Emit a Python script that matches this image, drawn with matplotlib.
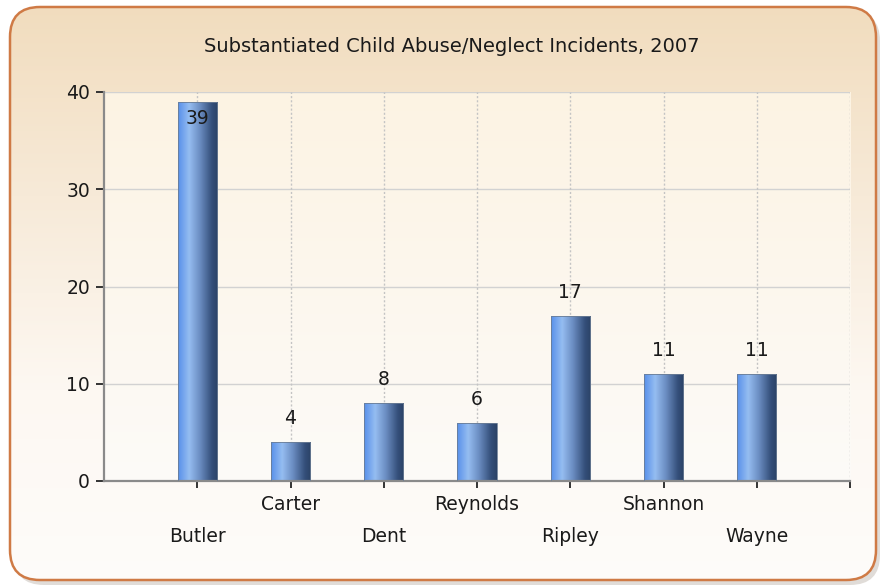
import numpy as np
import matplotlib.pyplot as plt
from matplotlib.patches import FancyBboxPatch
from matplotlib.colors import LinearSegmentedColormap

# data
counties = ["Butler", "Carter", "Dent", "Reynolds", "Ripley", "Shannon", "Wayne"]
incidents = [39, 4, 8, 6, 17, 11, 11]
title = "Substantiated Child Abuse/Neglect Incidents, 2007"
y_ticks = [0, 10, 20, 30, 40]

plt.rcParams['font.family'] = ['DejaVu Sans']

W, H = 880, 586
fig = plt.figure(figsize=(W / 100, H / 100), dpi=100)
fig.patch.set_facecolor('white')

# outer rounded panel with gradient fill
bg = fig.add_axes([0, 0, 1, 1], zorder=-10)
bg.set_xlim(0, W)
bg.set_ylim(H, 0)
bg.axis('off')

shadow = FancyBboxPatch((14, 11), 866, 574, boxstyle="round,pad=0,rounding_size=30",
                        facecolor='#c8c0b8', edgecolor='none', alpha=0.55)
bg.add_patch(shadow)
panel = FancyBboxPatch((10, 7), 866, 573, boxstyle="round,pad=0,rounding_size=30",
                       facecolor='none', edgecolor='none')
bg.add_patch(panel)
panel_cmap = LinearSegmentedColormap.from_list('panel', ['#f1dcbd', '#f7ead8', '#fdf8f2', '#fefcfa'])
grad = np.linspace(0, 1, 256).reshape(-1, 1)
im = bg.imshow(grad, cmap=panel_cmap, extent=(0, W, H, 0), aspect='auto', zorder=1)
im.set_clip_path(panel)
border = FancyBboxPatch((10, 7), 866, 573, boxstyle="round,pad=0,rounding_size=30",
                        facecolor='none', edgecolor='#cf7a45', linewidth=1.8, zorder=2)
bg.add_patch(border)

fig.text(452 / W, 1 - 46 / H, title, ha='center', va='center', fontsize=14, color='#1a1a1a')

# main plot
ax = fig.add_axes([104 / W, 1 - 481 / H, (850 - 104) / W, (481 - 92) / H])
ax.patch.set_visible(False)
x = np.arange(1, len(counties) + 1)
ax.set_xlim(0, len(counties) + 1)
ax.set_ylim(0, 40)

area_cmap = LinearSegmentedColormap.from_list('area', ['#fdfbf8', '#fcf3e3'])
ax.imshow(grad, cmap=area_cmap, extent=(0, len(counties) + 1, 0, 40),
          aspect='auto', origin='lower', zorder=0)

for yv in y_ticks[1:]:
    ax.axhline(yv, color='#d2d2d2', lw=1, zorder=1)
for xv in list(x) + [len(counties) + 1]:
    ax.axvline(xv, color='#c4c4c4', lw=1, ls=(0, (1.5, 1.5)), zorder=1)

bar_cmap = LinearSegmentedColormap.from_list(
    'bar', [(0, '#5790ea'), (0.28, '#95bdf1'), (0.55, '#6b8dc2'), (0.85, '#344f7a'), (1, '#2b4266')])
hgrad = np.linspace(0, 1, 256).reshape(1, -1)
bars = ax.bar(x, incidents, width=0.42, color='none', edgecolor='#6a7c94', linewidth=0.6, zorder=3)
for b in bars:
    gi = ax.imshow(hgrad, cmap=bar_cmap, aspect='auto', zorder=2,
                   extent=(b.get_x(), b.get_x() + b.get_width(), 0, b.get_height()))
    gi.set_clip_path(b)

for xi, v in zip(x, incidents):
    if v > 35:
        ax.annotate(str(v), (xi, v), xytext=(0, -5), textcoords='offset points',
                    ha='center', va='top', fontsize=13.5, color='#1a1a1a', zorder=4)
    else:
        ax.annotate(str(v), (xi, v), xytext=(0, 10), textcoords='offset points',
                    ha='center', va='bottom', fontsize=13.5, color='#1a1a1a', zorder=4)

for s in ['top', 'right']:
    ax.spines[s].set_visible(False)
for s in ['left', 'bottom']:
    ax.spines[s].set_color('#8a8a8a')
    ax.spines[s].set_linewidth(1.6)

ax.set_yticks(y_ticks)
ax.tick_params(axis='y', length=6, width=1.4, color='#333333', labelsize=13.5, labelcolor='#1a1a1a', pad=4)

# staggered category labels
ax.set_xticks(x[::2], counties[::2])
ax.set_xticks(list(x[1::2]) + [len(counties) + 1], counties[1::2] + [''], minor=True)
ax.tick_params(axis='x', which='major', length=5, width=1.4, color='#333333',
               labelsize=13.5, labelcolor='#1a1a1a', pad=28)
ax.tick_params(axis='x', which='minor', length=5, width=1.4, color='#333333',
               labelsize=13.5, labelcolor='#1a1a1a', pad=5)

fig.savefig('out.png', dpi=100)
